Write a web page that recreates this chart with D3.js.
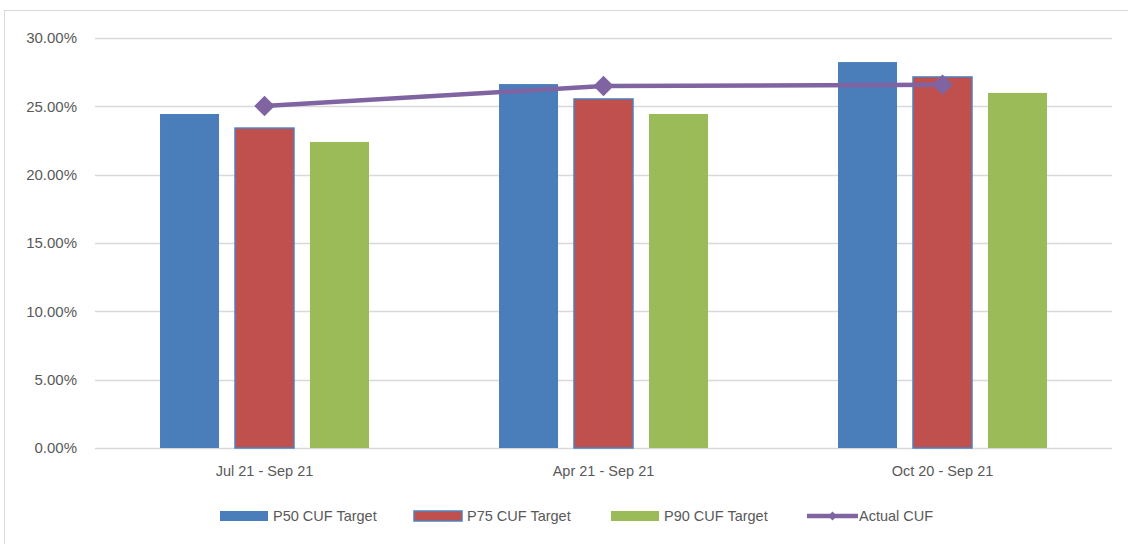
<!DOCTYPE html>
<html>
<head>
<meta charset="utf-8">
<script src="https://cdn.jsdelivr.net/npm/d3@7"></script>
<style>
  body { margin: 0; background: #fff; }
  svg { display: block; font-family: "Liberation Sans", Arial, sans-serif; }
</style>
</head>
<body>
<div id="chart"></div>
<script>
// chart data
const categories = ["Jul 21 - Sep 21", "Apr 21 - Sep 21", "Oct 20 - Sep 21"];
const p50Target = [0.2444, 0.2663, 0.2824];
const p75Target = [0.2341, 0.2554, 0.2715];
const p90Target = [0.2239, 0.2444, 0.2598];
const actualCuf = [0.2502, 0.2649, 0.2658];
const yTicks = [0, 0.05, 0.10, 0.15, 0.20, 0.25, 0.30];

const seriesNames = ["P50 CUF Target", "P75 CUF Target", "P90 CUF Target"];
const barSeries = [p50Target, p75Target, p90Target];
const colors = ["#4A7EBB", "#C0504D", "#9BBB59"];
const lineColor = "#8064A2";
const textColor = "#595959";

const W = 1128, H = 544;
const margin = {top: 38, right: 16, bottom: 96, left: 95};

const svg = d3.select("#chart").append("svg")
    .attr("width", W)
    .attr("height", H);

// outer chart border
svg.append("rect")
    .attr("x", 4.5).attr("y", 10.5)
    .attr("width", W + 10).attr("height", H + 10)
    .attr("fill", "none")
    .attr("stroke", "#D9D9D9");

const x0 = d3.scaleBand()
    .domain(categories)
    .range([margin.left, W - margin.right]);

const x1 = d3.scaleBand()
    .domain(seriesNames)
    .range([0, x0.bandwidth()])
    .paddingInner(0.213)
    .paddingOuter(0.867);

const y = d3.scaleLinear()
    .domain([0, 0.30])
    .range([448, 38]);

// gridlines
svg.append("g")
    .selectAll("line")
    .data(yTicks)
    .enter().append("line")
    .attr("x1", margin.left)
    .attr("x2", W - margin.right)
    .attr("y1", d => Math.round(y(d)) + 0.5)
    .attr("y2", d => Math.round(y(d)) + 0.5)
    .attr("stroke", "#D9D9D9")
    .attr("stroke-width", 1.5);

// y labels
svg.append("g")
    .selectAll("text")
    .data(yTicks)
    .enter().append("text")
    .attr("x", 77)
    .attr("y", d => y(d))
    .attr("dy", "0.35em")
    .attr("text-anchor", "end")
    .attr("fill", textColor)
    .style("font-size", "15px")
    .text(d => d3.format(".2%")(d));

// bars
barSeries.forEach((vals, si) => {
    svg.append("g")
        .selectAll("rect")
        .data(vals)
        .enter().append("rect")
        .attr("x", (d, i) => x0(categories[i]) + x1(seriesNames[si]))
        .attr("width", x1.bandwidth())
        .attr("y", d => y(d))
        .attr("height", d => y(0) - y(d))
        .attr("fill", colors[si])
        .attr("stroke", si === 1 ? "#4F81BD" : "none")
        .attr("stroke-width", si === 1 ? 1.5 : 0);
});

// category labels
svg.append("g")
    .selectAll("text")
    .data(categories)
    .enter().append("text")
    .attr("x", d => x0(d) + x0.bandwidth() / 2)
    .attr("y", 476)
    .attr("text-anchor", "middle")
    .attr("fill", textColor)
    .style("font-size", "14.5px")
    .text(d => d);

// actual line
const cx = (d, i) => x0(categories[i]) + x0.bandwidth() / 2;
const line = d3.line()
    .x(cx)
    .y(d => y(d));

svg.append("path")
    .datum(actualCuf)
    .attr("d", line)
    .attr("fill", "none")
    .attr("stroke", lineColor)
    .attr("stroke-width", 4.5);

const diamond = d3.symbol().type(d3.symbolSquare).size(210);
svg.append("g")
    .selectAll("path")
    .data(actualCuf)
    .enter().append("path")
    .attr("d", diamond)
    .attr("transform", (d, i) => `translate(${cx(d, i)},${y(d)}) rotate(45)`)
    .attr("fill", lineColor);

// legend
const legend = svg.append("g");
const legendY = 516;
const legendX = [220, 414, 611];
seriesNames.forEach((name, i) => {
    legend.append("rect")
        .attr("x", legendX[i])
        .attr("y", legendY - 5)
        .attr("width", 48)
        .attr("height", 10)
        .attr("fill", colors[i])
        .attr("stroke", i === 1 ? "#4F81BD" : "none")
        .attr("stroke-width", i === 1 ? 1.5 : 0);
    legend.append("text")
        .attr("x", legendX[i] + 53)
        .attr("y", legendY)
        .attr("dy", "0.35em")
        .attr("fill", textColor)
        .style("font-size", "14.5px")
        .text(name);
});

legend.append("line")
    .attr("x1", 807).attr("x2", 858)
    .attr("y1", legendY).attr("y2", legendY)
    .attr("stroke", lineColor)
    .attr("stroke-width", 4.5);
legend.append("path")
    .attr("d", d3.symbol().type(d3.symbolSquare).size(40))
    .attr("transform", `translate(832.5,${legendY}) rotate(45)`)
    .attr("fill", lineColor);
legend.append("text")
    .attr("x", 859)
    .attr("y", legendY)
    .attr("dy", "0.35em")
    .attr("fill", textColor)
    .style("font-size", "14.5px")
    .text("Actual CUF");
</script>
</body>
</html>
